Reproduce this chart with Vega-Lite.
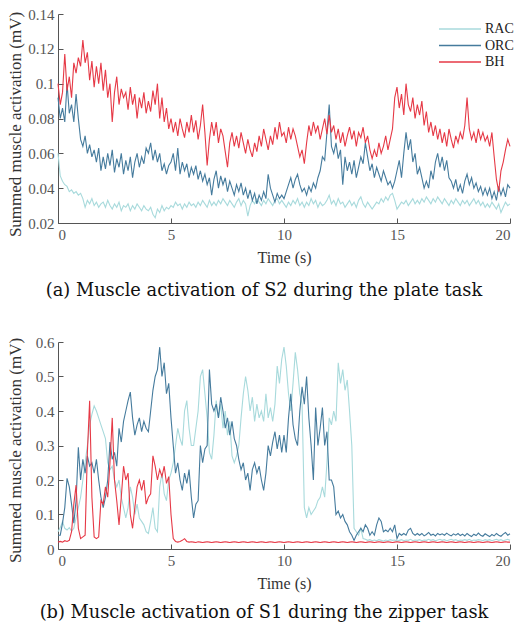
{
"$schema": "https://vega.github.io/schema/vega-lite/v6.json",
"padding": {"left": 5, "top": 7, "right": 5, "bottom": 5},
"background": "white",
"config": {
  "font": "Liberation Serif",
  "view": {"stroke": null},
  "concat": {"spacing": 119},
  "axis": {"grid": false, "domainColor": "#555", "tickColor": "#555", "labelColor": "#555", "labelFontSize": 15, "titleFontSize": 17, "titleFontWeight": "normal", "titleColor": "#333", "tickSize": -5, "labelPadding": 9, "labelFont": "Liberation Serif", "titleFont": "Liberation Serif"},
  "axisX": {"titleY": 34, "titleBaseline": "middle", "titleFontSize": 16},
  "axisY": {"titleX": -43, "titleBaseline": "middle", "titleAngle": -90},
  "legend": {"title": null, "orient": "none", "symbolType": "M-5.25,0H5.25", "symbolSize": 64, "symbolOffset": 17, "symbolStrokeWidth": 1.5, "labelFontSize": 14, "labelColor": "#222", "labelOffset": 18, "rowPadding": 2.5, "padding": 0, "labelFont": "Liberation Serif"},
  "title": {"orient": "bottom", "fontSize": 17.8, "fontWeight": "normal", "color": "#111", "font": "DejaVu Serif", "anchor": "middle", "dx": -20}
},
"bounds": "flush",
"datasets": {
"plate": [
{"t":0,"RAC":0.06,"ORC":0.092,"BH":0.1},
{"t":0.1,"RAC":0.047,"ORC":0.08,"BH":0.088},
{"t":0.2,"RAC":0.044,"ORC":0.086,"BH":0.095},
{"t":0.3,"RAC":0.042,"ORC":0.078,"BH":0.117},
{"t":0.4,"RAC":0.041,"ORC":0.1,"BH":0.096},
{"t":0.5,"RAC":0.038,"ORC":0.083,"BH":0.104},
{"t":0.6,"RAC":0.039,"ORC":0.088,"BH":0.092},
{"t":0.7,"RAC":0.037,"ORC":0.078,"BH":0.112},
{"t":0.8,"RAC":0.038,"ORC":0.094,"BH":0.106},
{"t":0.9,"RAC":0.036,"ORC":0.08,"BH":0.115},
{"t":1,"RAC":0.037,"ORC":0.068,"BH":0.11},
{"t":1.1,"RAC":0.034,"ORC":0.064,"BH":0.125},
{"t":1.2,"RAC":0.029,"ORC":0.07,"BH":0.112},
{"t":1.3,"RAC":0.033,"ORC":0.06,"BH":0.118},
{"t":1.4,"RAC":0.031,"ORC":0.065,"BH":0.102},
{"t":1.5,"RAC":0.034,"ORC":0.058,"BH":0.113},
{"t":1.6,"RAC":0.03,"ORC":0.062,"BH":0.098},
{"t":1.7,"RAC":0.032,"ORC":0.055,"BH":0.11},
{"t":1.8,"RAC":0.029,"ORC":0.063,"BH":0.1},
{"t":1.9,"RAC":0.031,"ORC":0.05,"BH":0.112},
{"t":2,"RAC":0.032,"ORC":0.058,"BH":0.096},
{"t":2.1,"RAC":0.029,"ORC":0.051,"BH":0.108},
{"t":2.2,"RAC":0.033,"ORC":0.06,"BH":0.092},
{"t":2.3,"RAC":0.03,"ORC":0.053,"BH":0.1},
{"t":2.4,"RAC":0.028,"ORC":0.062,"BH":0.078},
{"t":2.5,"RAC":0.031,"ORC":0.049,"BH":0.095},
{"t":2.6,"RAC":0.029,"ORC":0.057,"BH":0.104},
{"t":2.7,"RAC":0.032,"ORC":0.052,"BH":0.088},
{"t":2.8,"RAC":0.027,"ORC":0.06,"BH":0.097},
{"t":2.9,"RAC":0.03,"ORC":0.048,"BH":0.092},
{"t":3,"RAC":0.029,"ORC":0.056,"BH":0.095},
{"t":3.1,"RAC":0.031,"ORC":0.05,"BH":0.085},
{"t":3.2,"RAC":0.027,"ORC":0.058,"BH":0.098},
{"t":3.3,"RAC":0.03,"ORC":0.046,"BH":0.088},
{"t":3.4,"RAC":0.028,"ORC":0.055,"BH":0.094},
{"t":3.5,"RAC":0.031,"ORC":0.06,"BH":0.08},
{"t":3.6,"RAC":0.029,"ORC":0.052,"BH":0.092},
{"t":3.7,"RAC":0.027,"ORC":0.058,"BH":0.086},
{"t":3.8,"RAC":0.03,"ORC":0.054,"BH":0.095},
{"t":3.9,"RAC":0.028,"ORC":0.063,"BH":0.083},
{"t":4,"RAC":0.027,"ORC":0.06,"BH":0.09},
{"t":4.1,"RAC":0.029,"ORC":0.066,"BH":0.084},
{"t":4.2,"RAC":0.025,"ORC":0.056,"BH":0.096},
{"t":4.3,"RAC":0.023,"ORC":0.062,"BH":0.088},
{"t":4.4,"RAC":0.028,"ORC":0.055,"BH":0.1},
{"t":4.5,"RAC":0.026,"ORC":0.06,"BH":0.08},
{"t":4.6,"RAC":0.03,"ORC":0.05,"BH":0.092},
{"t":4.7,"RAC":0.027,"ORC":0.054,"BH":0.078},
{"t":4.8,"RAC":0.029,"ORC":0.048,"BH":0.086},
{"t":4.9,"RAC":0.028,"ORC":0.053,"BH":0.074},
{"t":5,"RAC":0.03,"ORC":0.055,"BH":0.08},
{"t":5.1,"RAC":0.029,"ORC":0.06,"BH":0.072},
{"t":5.2,"RAC":0.032,"ORC":0.05,"BH":0.078},
{"t":5.3,"RAC":0.03,"ORC":0.063,"BH":0.07},
{"t":5.4,"RAC":0.031,"ORC":0.048,"BH":0.08},
{"t":5.5,"RAC":0.028,"ORC":0.055,"BH":0.074},
{"t":5.6,"RAC":0.031,"ORC":0.05,"BH":0.069},
{"t":5.7,"RAC":0.029,"ORC":0.054,"BH":0.078},
{"t":5.8,"RAC":0.032,"ORC":0.046,"BH":0.072},
{"t":5.9,"RAC":0.03,"ORC":0.052,"BH":0.082},
{"t":6,"RAC":0.031,"ORC":0.048,"BH":0.072},
{"t":6.1,"RAC":0.029,"ORC":0.053,"BH":0.079},
{"t":6.2,"RAC":0.032,"ORC":0.045,"BH":0.068},
{"t":6.3,"RAC":0.03,"ORC":0.05,"BH":0.076},
{"t":6.4,"RAC":0.033,"ORC":0.044,"BH":0.088},
{"t":6.5,"RAC":0.031,"ORC":0.048,"BH":0.072},
{"t":6.6,"RAC":0.029,"ORC":0.042,"BH":0.053},
{"t":6.7,"RAC":0.033,"ORC":0.046,"BH":0.068},
{"t":6.8,"RAC":0.03,"ORC":0.036,"BH":0.078},
{"t":6.9,"RAC":0.032,"ORC":0.045,"BH":0.07},
{"t":7,"RAC":0.03,"ORC":0.05,"BH":0.078},
{"t":7.1,"RAC":0.033,"ORC":0.04,"BH":0.066},
{"t":7.2,"RAC":0.031,"ORC":0.047,"BH":0.074},
{"t":7.3,"RAC":0.034,"ORC":0.042,"BH":0.07},
{"t":7.4,"RAC":0.032,"ORC":0.046,"BH":0.061},
{"t":7.5,"RAC":0.03,"ORC":0.038,"BH":0.052},
{"t":7.6,"RAC":0.033,"ORC":0.044,"BH":0.066},
{"t":7.7,"RAC":0.031,"ORC":0.04,"BH":0.072},
{"t":7.8,"RAC":0.029,"ORC":0.036,"BH":0.064},
{"t":7.9,"RAC":0.032,"ORC":0.042,"BH":0.07},
{"t":8,"RAC":0.034,"ORC":0.038,"BH":0.063},
{"t":8.1,"RAC":0.03,"ORC":0.043,"BH":0.072},
{"t":8.2,"RAC":0.033,"ORC":0.036,"BH":0.066},
{"t":8.3,"RAC":0.031,"ORC":0.04,"BH":0.06},
{"t":8.4,"RAC":0.024,"ORC":0.034,"BH":0.068},
{"t":8.5,"RAC":0.03,"ORC":0.039,"BH":0.062},
{"t":8.6,"RAC":0.033,"ORC":0.033,"BH":0.058},
{"t":8.7,"RAC":0.031,"ORC":0.037,"BH":0.066},
{"t":8.8,"RAC":0.034,"ORC":0.031,"BH":0.061},
{"t":8.9,"RAC":0.032,"ORC":0.036,"BH":0.07},
{"t":9,"RAC":0.03,"ORC":0.033,"BH":0.064},
{"t":9.1,"RAC":0.033,"ORC":0.038,"BH":0.074},
{"t":9.2,"RAC":0.031,"ORC":0.034,"BH":0.068},
{"t":9.3,"RAC":0.034,"ORC":0.048,"BH":0.062},
{"t":9.4,"RAC":0.032,"ORC":0.04,"BH":0.07},
{"t":9.5,"RAC":0.03,"ORC":0.036,"BH":0.065},
{"t":9.6,"RAC":0.033,"ORC":0.032,"BH":0.075},
{"t":9.7,"RAC":0.034,"ORC":0.037,"BH":0.068},
{"t":9.8,"RAC":0.031,"ORC":0.034,"BH":0.078},
{"t":9.9,"RAC":0.033,"ORC":0.036,"BH":0.07},
{"t":10,"RAC":0.031,"ORC":0.034,"BH":0.072},
{"t":10.1,"RAC":0.029,"ORC":0.038,"BH":0.066},
{"t":10.2,"RAC":0.032,"ORC":0.042,"BH":0.075},
{"t":10.3,"RAC":0.03,"ORC":0.046,"BH":0.068},
{"t":10.4,"RAC":0.033,"ORC":0.04,"BH":0.074},
{"t":10.5,"RAC":0.031,"ORC":0.045,"BH":0.07},
{"t":10.6,"RAC":0.034,"ORC":0.048,"BH":0.064},
{"t":10.7,"RAC":0.03,"ORC":0.042,"BH":0.058},
{"t":10.8,"RAC":0.032,"ORC":0.038,"BH":0.062},
{"t":10.9,"RAC":0.029,"ORC":0.04,"BH":0.054},
{"t":11,"RAC":0.032,"ORC":0.036,"BH":0.066},
{"t":11.1,"RAC":0.03,"ORC":0.041,"BH":0.076},
{"t":11.2,"RAC":0.034,"ORC":0.038,"BH":0.07},
{"t":11.3,"RAC":0.031,"ORC":0.043,"BH":0.078},
{"t":11.4,"RAC":0.033,"ORC":0.04,"BH":0.072},
{"t":11.5,"RAC":0.029,"ORC":0.046,"BH":0.076},
{"t":11.6,"RAC":0.032,"ORC":0.05,"BH":0.068},
{"t":11.7,"RAC":0.03,"ORC":0.058,"BH":0.074},
{"t":11.8,"RAC":0.031,"ORC":0.056,"BH":0.08},
{"t":11.9,"RAC":0.033,"ORC":0.072,"BH":0.071},
{"t":12,"RAC":0.036,"ORC":0.088,"BH":0.082},
{"t":12.1,"RAC":0.031,"ORC":0.064,"BH":0.072},
{"t":12.2,"RAC":0.033,"ORC":0.06,"BH":0.076},
{"t":12.3,"RAC":0.03,"ORC":0.066,"BH":0.068},
{"t":12.4,"RAC":0.034,"ORC":0.057,"BH":0.074},
{"t":12.5,"RAC":0.031,"ORC":0.062,"BH":0.066},
{"t":12.6,"RAC":0.032,"ORC":0.042,"BH":0.072},
{"t":12.7,"RAC":0.029,"ORC":0.058,"BH":0.064},
{"t":12.8,"RAC":0.031,"ORC":0.05,"BH":0.07},
{"t":12.9,"RAC":0.033,"ORC":0.055,"BH":0.075},
{"t":13,"RAC":0.03,"ORC":0.048,"BH":0.068},
{"t":13.1,"RAC":0.032,"ORC":0.056,"BH":0.073},
{"t":13.2,"RAC":0.029,"ORC":0.046,"BH":0.064},
{"t":13.3,"RAC":0.033,"ORC":0.052,"BH":0.072},
{"t":13.4,"RAC":0.035,"ORC":0.058,"BH":0.069},
{"t":13.5,"RAC":0.031,"ORC":0.054,"BH":0.075},
{"t":13.6,"RAC":0.029,"ORC":0.066,"BH":0.066},
{"t":13.7,"RAC":0.032,"ORC":0.058,"BH":0.07},
{"t":13.8,"RAC":0.03,"ORC":0.05,"BH":0.062},
{"t":13.9,"RAC":0.028,"ORC":0.054,"BH":0.057},
{"t":14,"RAC":0.03,"ORC":0.046,"BH":0.062},
{"t":14.1,"RAC":0.032,"ORC":0.052,"BH":0.058},
{"t":14.2,"RAC":0.031,"ORC":0.048,"BH":0.066},
{"t":14.3,"RAC":0.034,"ORC":0.044,"BH":0.06},
{"t":14.4,"RAC":0.032,"ORC":0.05,"BH":0.064},
{"t":14.5,"RAC":0.035,"ORC":0.046,"BH":0.07},
{"t":14.6,"RAC":0.033,"ORC":0.042,"BH":0.062},
{"t":14.7,"RAC":0.036,"ORC":0.044,"BH":0.068},
{"t":14.8,"RAC":0.037,"ORC":0.04,"BH":0.074},
{"t":14.9,"RAC":0.033,"ORC":0.044,"BH":0.092},
{"t":15,"RAC":0.028,"ORC":0.05,"BH":0.098},
{"t":15.1,"RAC":0.03,"ORC":0.056,"BH":0.086},
{"t":15.2,"RAC":0.032,"ORC":0.046,"BH":0.094},
{"t":15.3,"RAC":0.031,"ORC":0.06,"BH":0.082},
{"t":15.4,"RAC":0.033,"ORC":0.072,"BH":0.1},
{"t":15.5,"RAC":0.03,"ORC":0.062,"BH":0.088},
{"t":15.6,"RAC":0.032,"ORC":0.068,"BH":0.084},
{"t":15.7,"RAC":0.034,"ORC":0.055,"BH":0.092},
{"t":15.8,"RAC":0.031,"ORC":0.06,"BH":0.08},
{"t":15.9,"RAC":0.033,"ORC":0.048,"BH":0.088},
{"t":16,"RAC":0.031,"ORC":0.052,"BH":0.082},
{"t":16.1,"RAC":0.034,"ORC":0.046,"BH":0.09},
{"t":16.2,"RAC":0.032,"ORC":0.04,"BH":0.076},
{"t":16.3,"RAC":0.035,"ORC":0.044,"BH":0.084},
{"t":16.4,"RAC":0.033,"ORC":0.04,"BH":0.072},
{"t":16.5,"RAC":0.031,"ORC":0.05,"BH":0.078},
{"t":16.6,"RAC":0.034,"ORC":0.045,"BH":0.07},
{"t":16.7,"RAC":0.032,"ORC":0.055,"BH":0.076},
{"t":16.8,"RAC":0.035,"ORC":0.06,"BH":0.068},
{"t":16.9,"RAC":0.033,"ORC":0.052,"BH":0.074},
{"t":17,"RAC":0.031,"ORC":0.058,"BH":0.066},
{"t":17.1,"RAC":0.034,"ORC":0.05,"BH":0.072},
{"t":17.2,"RAC":0.032,"ORC":0.056,"BH":0.064},
{"t":17.3,"RAC":0.03,"ORC":0.046,"BH":0.074},
{"t":17.4,"RAC":0.033,"ORC":0.044,"BH":0.068},
{"t":17.5,"RAC":0.031,"ORC":0.04,"BH":0.063},
{"t":17.6,"RAC":0.034,"ORC":0.045,"BH":0.07},
{"t":17.7,"RAC":0.032,"ORC":0.038,"BH":0.066},
{"t":17.8,"RAC":0.03,"ORC":0.042,"BH":0.072},
{"t":17.9,"RAC":0.033,"ORC":0.037,"BH":0.068},
{"t":18,"RAC":0.031,"ORC":0.044,"BH":0.076},
{"t":18.1,"RAC":0.033,"ORC":0.048,"BH":0.092},
{"t":18.2,"RAC":0.03,"ORC":0.042,"BH":0.074},
{"t":18.3,"RAC":0.032,"ORC":0.046,"BH":0.068},
{"t":18.4,"RAC":0.034,"ORC":0.04,"BH":0.072},
{"t":18.5,"RAC":0.031,"ORC":0.043,"BH":0.066},
{"t":18.6,"RAC":0.033,"ORC":0.038,"BH":0.074},
{"t":18.7,"RAC":0.03,"ORC":0.041,"BH":0.068},
{"t":18.8,"RAC":0.032,"ORC":0.036,"BH":0.072},
{"t":18.9,"RAC":0.029,"ORC":0.04,"BH":0.067},
{"t":19,"RAC":0.031,"ORC":0.036,"BH":0.07},
{"t":19.1,"RAC":0.029,"ORC":0.04,"BH":0.064},
{"t":19.2,"RAC":0.032,"ORC":0.034,"BH":0.072},
{"t":19.3,"RAC":0.03,"ORC":0.038,"BH":0.058},
{"t":19.4,"RAC":0.028,"ORC":0.033,"BH":0.045},
{"t":19.5,"RAC":0.031,"ORC":0.041,"BH":0.038},
{"t":19.6,"RAC":0.026,"ORC":0.036,"BH":0.05},
{"t":19.7,"RAC":0.029,"ORC":0.04,"BH":0.055},
{"t":19.8,"RAC":0.032,"ORC":0.035,"BH":0.062},
{"t":19.9,"RAC":0.03,"ORC":0.042,"BH":0.068},
{"t":20,"RAC":0.031,"ORC":0.04,"BH":0.064}
],
"zipper": [
{"t":0,"RAC":0.05,"ORC":0.04,"BH":0.02},
{"t":0.1,"RAC":0.062,"ORC":0.04,"BH":0.022},
{"t":0.2,"RAC":0.08,"ORC":0.075,"BH":0.02},
{"t":0.3,"RAC":0.06,"ORC":0.12,"BH":0.024},
{"t":0.4,"RAC":0.055,"ORC":0.205,"BH":0.022},
{"t":0.5,"RAC":0.062,"ORC":0.18,"BH":0.025},
{"t":0.6,"RAC":0.052,"ORC":0.13,"BH":0.05},
{"t":0.7,"RAC":0.06,"ORC":0.075,"BH":0.13},
{"t":0.8,"RAC":0.09,"ORC":0.14,"BH":0.185},
{"t":0.9,"RAC":0.12,"ORC":0.295,"BH":0.06},
{"t":1,"RAC":0.15,"ORC":0.2,"BH":0.03},
{"t":1.1,"RAC":0.2,"ORC":0.26,"BH":0.035},
{"t":1.2,"RAC":0.25,"ORC":0.22,"BH":0.04},
{"t":1.3,"RAC":0.3,"ORC":0.27,"BH":0.28},
{"t":1.4,"RAC":0.36,"ORC":0.24,"BH":0.43},
{"t":1.5,"RAC":0.39,"ORC":0.25,"BH":0.15},
{"t":1.6,"RAC":0.415,"ORC":0.22,"BH":0.035},
{"t":1.7,"RAC":0.4,"ORC":0.26,"BH":0.03},
{"t":1.8,"RAC":0.38,"ORC":0.2,"BH":0.035},
{"t":1.9,"RAC":0.36,"ORC":0.15,"BH":0.14},
{"t":2,"RAC":0.34,"ORC":0.12,"BH":0.13},
{"t":2.1,"RAC":0.32,"ORC":0.15,"BH":0.18},
{"t":2.2,"RAC":0.25,"ORC":0.2,"BH":0.15},
{"t":2.3,"RAC":0.23,"ORC":0.31,"BH":0.25},
{"t":2.4,"RAC":0.24,"ORC":0.26,"BH":0.38},
{"t":2.5,"RAC":0.2,"ORC":0.28,"BH":0.2},
{"t":2.6,"RAC":0.18,"ORC":0.24,"BH":0.14},
{"t":2.7,"RAC":0.2,"ORC":0.35,"BH":0.07},
{"t":2.8,"RAC":0.15,"ORC":0.31,"BH":0.15},
{"t":2.9,"RAC":0.12,"ORC":0.37,"BH":0.24},
{"t":3,"RAC":0.09,"ORC":0.4,"BH":0.2},
{"t":3.1,"RAC":0.12,"ORC":0.43,"BH":0.22},
{"t":3.2,"RAC":0.18,"ORC":0.455,"BH":0.1},
{"t":3.3,"RAC":0.15,"ORC":0.38,"BH":0.06},
{"t":3.4,"RAC":0.1,"ORC":0.33,"BH":0.12},
{"t":3.5,"RAC":0.13,"ORC":0.36,"BH":0.18},
{"t":3.6,"RAC":0.09,"ORC":0.38,"BH":0.2},
{"t":3.7,"RAC":0.08,"ORC":0.34,"BH":0.17},
{"t":3.8,"RAC":0.07,"ORC":0.37,"BH":0.2},
{"t":3.9,"RAC":0.05,"ORC":0.35,"BH":0.13},
{"t":4,"RAC":0.045,"ORC":0.34,"BH":0.15},
{"t":4.1,"RAC":0.08,"ORC":0.4,"BH":0.16},
{"t":4.2,"RAC":0.12,"ORC":0.46,"BH":0.27},
{"t":4.3,"RAC":0.06,"ORC":0.5,"BH":0.24},
{"t":4.4,"RAC":0.05,"ORC":0.52,"BH":0.2},
{"t":4.5,"RAC":0.18,"ORC":0.585,"BH":0.23},
{"t":4.6,"RAC":0.22,"ORC":0.5,"BH":0.21},
{"t":4.7,"RAC":0.16,"ORC":0.54,"BH":0.24},
{"t":4.8,"RAC":0.14,"ORC":0.45,"BH":0.19},
{"t":4.9,"RAC":0.2,"ORC":0.48,"BH":0.21},
{"t":5,"RAC":0.22,"ORC":0.38,"BH":0.1},
{"t":5.1,"RAC":0.25,"ORC":0.3,"BH":0.03},
{"t":5.2,"RAC":0.3,"ORC":0.22,"BH":0.022},
{"t":5.3,"RAC":0.35,"ORC":0.25,"BH":0.02},
{"t":5.4,"RAC":0.32,"ORC":0.2,"BH":0.022},
{"t":5.5,"RAC":0.3,"ORC":0.17,"BH":0.025},
{"t":5.6,"RAC":0.4,"ORC":0.22,"BH":0.03},
{"t":5.7,"RAC":0.43,"ORC":0.19,"BH":0.022},
{"t":5.8,"RAC":0.35,"ORC":0.23,"BH":0.02},
{"t":5.9,"RAC":0.3,"ORC":0.15,"BH":0.021},
{"t":6,"RAC":0.3,"ORC":0.09,"BH":0.02},
{"t":6.1,"RAC":0.35,"ORC":0.13,"BH":0.019},
{"t":6.2,"RAC":0.4,"ORC":0.14,"BH":0.021},
{"t":6.3,"RAC":0.5,"ORC":0.3,"BH":0.02},
{"t":6.4,"RAC":0.52,"ORC":0.25,"BH":0.019},
{"t":6.5,"RAC":0.45,"ORC":0.29,"BH":0.02},
{"t":6.6,"RAC":0.38,"ORC":0.3,"BH":0.021},
{"t":6.7,"RAC":0.28,"ORC":0.52,"BH":0.02},
{"t":6.8,"RAC":0.26,"ORC":0.42,"BH":0.019},
{"t":6.9,"RAC":0.33,"ORC":0.4,"BH":0.02},
{"t":7,"RAC":0.43,"ORC":0.42,"BH":0.021},
{"t":7.1,"RAC":0.38,"ORC":0.38,"BH":0.02},
{"t":7.2,"RAC":0.42,"ORC":0.44,"BH":0.019},
{"t":7.3,"RAC":0.35,"ORC":0.4,"BH":0.02},
{"t":7.4,"RAC":0.4,"ORC":0.35,"BH":0.021},
{"t":7.5,"RAC":0.33,"ORC":0.38,"BH":0.02},
{"t":7.6,"RAC":0.37,"ORC":0.33,"BH":0.019},
{"t":7.7,"RAC":0.27,"ORC":0.37,"BH":0.02},
{"t":7.8,"RAC":0.25,"ORC":0.32,"BH":0.021},
{"t":7.9,"RAC":0.27,"ORC":0.3,"BH":0.02},
{"t":8,"RAC":0.3,"ORC":0.26,"BH":0.019},
{"t":8.1,"RAC":0.38,"ORC":0.23,"BH":0.02},
{"t":8.2,"RAC":0.45,"ORC":0.25,"BH":0.021},
{"t":8.3,"RAC":0.5,"ORC":0.2,"BH":0.02},
{"t":8.4,"RAC":0.46,"ORC":0.22,"BH":0.019},
{"t":8.5,"RAC":0.4,"ORC":0.17,"BH":0.02},
{"t":8.6,"RAC":0.44,"ORC":0.23,"BH":0.021},
{"t":8.7,"RAC":0.37,"ORC":0.25,"BH":0.02},
{"t":8.8,"RAC":0.42,"ORC":0.22,"BH":0.019},
{"t":8.9,"RAC":0.38,"ORC":0.24,"BH":0.02},
{"t":9,"RAC":0.4,"ORC":0.2,"BH":0.021},
{"t":9.1,"RAC":0.37,"ORC":0.17,"BH":0.02},
{"t":9.2,"RAC":0.45,"ORC":0.22,"BH":0.019},
{"t":9.3,"RAC":0.38,"ORC":0.3,"BH":0.02},
{"t":9.4,"RAC":0.41,"ORC":0.27,"BH":0.021},
{"t":9.5,"RAC":0.37,"ORC":0.31,"BH":0.02},
{"t":9.6,"RAC":0.42,"ORC":0.34,"BH":0.019},
{"t":9.7,"RAC":0.53,"ORC":0.29,"BH":0.02},
{"t":9.8,"RAC":0.48,"ORC":0.33,"BH":0.021},
{"t":9.9,"RAC":0.55,"ORC":0.28,"BH":0.02},
{"t":10,"RAC":0.585,"ORC":0.33,"BH":0.019},
{"t":10.1,"RAC":0.53,"ORC":0.28,"BH":0.02},
{"t":10.2,"RAC":0.45,"ORC":0.38,"BH":0.021},
{"t":10.3,"RAC":0.4,"ORC":0.45,"BH":0.02},
{"t":10.4,"RAC":0.48,"ORC":0.36,"BH":0.019},
{"t":10.5,"RAC":0.57,"ORC":0.32,"BH":0.02},
{"t":10.6,"RAC":0.52,"ORC":0.3,"BH":0.021},
{"t":10.7,"RAC":0.45,"ORC":0.4,"BH":0.02},
{"t":10.8,"RAC":0.42,"ORC":0.47,"BH":0.019},
{"t":10.9,"RAC":0.12,"ORC":0.42,"BH":0.02},
{"t":11,"RAC":0.09,"ORC":0.5,"BH":0.021},
{"t":11.1,"RAC":0.12,"ORC":0.38,"BH":0.02},
{"t":11.2,"RAC":0.1,"ORC":0.3,"BH":0.019},
{"t":11.3,"RAC":0.11,"ORC":0.2,"BH":0.02},
{"t":11.4,"RAC":0.12,"ORC":0.41,"BH":0.021},
{"t":11.5,"RAC":0.14,"ORC":0.3,"BH":0.02},
{"t":11.6,"RAC":0.15,"ORC":0.35,"BH":0.019},
{"t":11.7,"RAC":0.18,"ORC":0.41,"BH":0.02},
{"t":11.8,"RAC":0.15,"ORC":0.3,"BH":0.021},
{"t":11.9,"RAC":0.25,"ORC":0.34,"BH":0.02},
{"t":12,"RAC":0.38,"ORC":0.2,"BH":0.019},
{"t":12.1,"RAC":0.36,"ORC":0.2,"BH":0.02},
{"t":12.2,"RAC":0.4,"ORC":0.18,"BH":0.021},
{"t":12.3,"RAC":0.37,"ORC":0.1,"BH":0.02},
{"t":12.4,"RAC":0.54,"ORC":0.11,"BH":0.019},
{"t":12.5,"RAC":0.48,"ORC":0.09,"BH":0.02},
{"t":12.6,"RAC":0.52,"ORC":0.1,"BH":0.021},
{"t":12.7,"RAC":0.46,"ORC":0.08,"BH":0.02},
{"t":12.8,"RAC":0.49,"ORC":0.07,"BH":0.019},
{"t":12.9,"RAC":0.4,"ORC":0.05,"BH":0.02},
{"t":13,"RAC":0.3,"ORC":0.04,"BH":0.021},
{"t":13.1,"RAC":0.06,"ORC":0.025,"BH":0.02},
{"t":13.2,"RAC":0.05,"ORC":0.04,"BH":0.019},
{"t":13.3,"RAC":0.04,"ORC":0.05,"BH":0.02},
{"t":13.4,"RAC":0.06,"ORC":0.06,"BH":0.021},
{"t":13.5,"RAC":0.03,"ORC":0.05,"BH":0.02},
{"t":13.6,"RAC":0.028,"ORC":0.07,"BH":0.019},
{"t":13.7,"RAC":0.025,"ORC":0.06,"BH":0.02},
{"t":13.8,"RAC":0.027,"ORC":0.04,"BH":0.021},
{"t":13.9,"RAC":0.024,"ORC":0.05,"BH":0.02},
{"t":14,"RAC":0.026,"ORC":0.04,"BH":0.019},
{"t":14.1,"RAC":0.024,"ORC":0.07,"BH":0.02},
{"t":14.2,"RAC":0.027,"ORC":0.09,"BH":0.021},
{"t":14.3,"RAC":0.025,"ORC":0.08,"BH":0.02},
{"t":14.4,"RAC":0.023,"ORC":0.05,"BH":0.019},
{"t":14.5,"RAC":0.026,"ORC":0.055,"BH":0.02},
{"t":14.6,"RAC":0.024,"ORC":0.05,"BH":0.021},
{"t":14.7,"RAC":0.027,"ORC":0.06,"BH":0.02},
{"t":14.8,"RAC":0.025,"ORC":0.05,"BH":0.019},
{"t":14.9,"RAC":0.026,"ORC":0.07,"BH":0.02},
{"t":15,"RAC":0.023,"ORC":0.03,"BH":0.021},
{"t":15.1,"RAC":0.025,"ORC":0.045,"BH":0.02},
{"t":15.2,"RAC":0.027,"ORC":0.04,"BH":0.019},
{"t":15.3,"RAC":0.024,"ORC":0.045,"BH":0.02},
{"t":15.4,"RAC":0.026,"ORC":0.04,"BH":0.021},
{"t":15.5,"RAC":0.025,"ORC":0.055,"BH":0.02},
{"t":15.6,"RAC":0.028,"ORC":0.06,"BH":0.019},
{"t":15.7,"RAC":0.024,"ORC":0.045,"BH":0.02},
{"t":15.8,"RAC":0.026,"ORC":0.04,"BH":0.021},
{"t":15.9,"RAC":0.025,"ORC":0.045,"BH":0.02},
{"t":16,"RAC":0.027,"ORC":0.04,"BH":0.019},
{"t":16.1,"RAC":0.024,"ORC":0.045,"BH":0.02},
{"t":16.2,"RAC":0.026,"ORC":0.038,"BH":0.021},
{"t":16.3,"RAC":0.025,"ORC":0.042,"BH":0.02},
{"t":16.4,"RAC":0.028,"ORC":0.048,"BH":0.019},
{"t":16.5,"RAC":0.025,"ORC":0.04,"BH":0.02},
{"t":16.6,"RAC":0.027,"ORC":0.043,"BH":0.021},
{"t":16.7,"RAC":0.024,"ORC":0.038,"BH":0.02},
{"t":16.8,"RAC":0.026,"ORC":0.045,"BH":0.019},
{"t":16.9,"RAC":0.028,"ORC":0.041,"BH":0.02},
{"t":17,"RAC":0.025,"ORC":0.044,"BH":0.021},
{"t":17.1,"RAC":0.027,"ORC":0.04,"BH":0.02},
{"t":17.2,"RAC":0.024,"ORC":0.046,"BH":0.019},
{"t":17.3,"RAC":0.026,"ORC":0.041,"BH":0.02},
{"t":17.4,"RAC":0.028,"ORC":0.038,"BH":0.021},
{"t":17.5,"RAC":0.025,"ORC":0.044,"BH":0.02},
{"t":17.6,"RAC":0.027,"ORC":0.04,"BH":0.019},
{"t":17.7,"RAC":0.024,"ORC":0.045,"BH":0.02},
{"t":17.8,"RAC":0.026,"ORC":0.039,"BH":0.021},
{"t":17.9,"RAC":0.025,"ORC":0.043,"BH":0.02},
{"t":18,"RAC":0.027,"ORC":0.038,"BH":0.019},
{"t":18.1,"RAC":0.025,"ORC":0.045,"BH":0.02},
{"t":18.2,"RAC":0.028,"ORC":0.04,"BH":0.021},
{"t":18.3,"RAC":0.024,"ORC":0.036,"BH":0.02},
{"t":18.4,"RAC":0.026,"ORC":0.043,"BH":0.019},
{"t":18.5,"RAC":0.025,"ORC":0.039,"BH":0.02},
{"t":18.6,"RAC":0.027,"ORC":0.046,"BH":0.021},
{"t":18.7,"RAC":0.026,"ORC":0.04,"BH":0.02},
{"t":18.8,"RAC":0.024,"ORC":0.037,"BH":0.019},
{"t":18.9,"RAC":0.027,"ORC":0.044,"BH":0.02},
{"t":19,"RAC":0.025,"ORC":0.04,"BH":0.021},
{"t":19.1,"RAC":0.027,"ORC":0.036,"BH":0.02},
{"t":19.2,"RAC":0.024,"ORC":0.042,"BH":0.019},
{"t":19.3,"RAC":0.026,"ORC":0.038,"BH":0.02},
{"t":19.4,"RAC":0.028,"ORC":0.045,"BH":0.021},
{"t":19.5,"RAC":0.025,"ORC":0.04,"BH":0.02},
{"t":19.6,"RAC":0.027,"ORC":0.037,"BH":0.019},
{"t":19.7,"RAC":0.024,"ORC":0.043,"BH":0.02},
{"t":19.8,"RAC":0.026,"ORC":0.048,"BH":0.021},
{"t":19.9,"RAC":0.028,"ORC":0.04,"BH":0.02},
{"t":20,"RAC":0.025,"ORC":0.044,"BH":0.02}
]
},
"vconcat": [
{
  "width": 452, "height": 209,
  "title": {"text": "(a)  Muscle activation of S2 during the plate task", "offset": 17},
  "data": {"name": "plate"},
  "transform": [{"fold": ["RAC", "ORC", "BH"], "as": ["muscle", "value"]}],
  "mark": {"type": "line", "strokeWidth": 1.1},
  "encoding": {
    "x": {"field": "t", "type": "quantitative", "title": "Time (s)", "scale": {"domain": [0, 20], "nice": false}, "axis": {"values": [0, 5, 10, 15, 20]}},
    "y": {"field": "value", "type": "quantitative", "title": "Summed muscle activation (mV)", "scale": {"domain": [0.02, 0.14], "nice": false, "zero": false}, "axis": {"values": [0.02, 0.04, 0.06, 0.08, 0.1, 0.12, 0.14], "format": "~g", "titleY": 110}},
    "color": {"field": "muscle", "type": "nominal", "scale": {"domain": ["RAC", "ORC", "BH"], "range": ["#a8dadc", "#457b9d", "#e63946"]}, "legend": {"legendX": 378, "legendY": 8}}
  }
},
{
  "width": 452, "height": 207,
  "title": {"text": "(b)  Muscle activation of S1 during the zipper task", "offset": 13},
  "data": {"name": "zipper"},
  "transform": [{"fold": ["RAC", "ORC", "BH"], "as": ["muscle", "value"]}],
  "mark": {"type": "line", "strokeWidth": 1.1},
  "encoding": {
    "x": {"field": "t", "type": "quantitative", "title": "Time (s)", "scale": {"domain": [0, 20], "nice": false}, "axis": {"values": [0, 5, 10, 15, 20]}},
    "y": {"field": "value", "type": "quantitative", "title": "Summed muscle activation (mV)", "scale": {"domain": [0, 0.6], "nice": false}, "axis": {"values": [0, 0.1, 0.2, 0.3, 0.4, 0.5, 0.6], "format": "~g", "titleY": 108}},
    "color": {"field": "muscle", "type": "nominal", "scale": {"domain": ["RAC", "ORC", "BH"], "range": ["#a8dadc", "#457b9d", "#e63946"]}, "legend": {"legendX": 380, "legendY": 13}}
  }
}
]
}
